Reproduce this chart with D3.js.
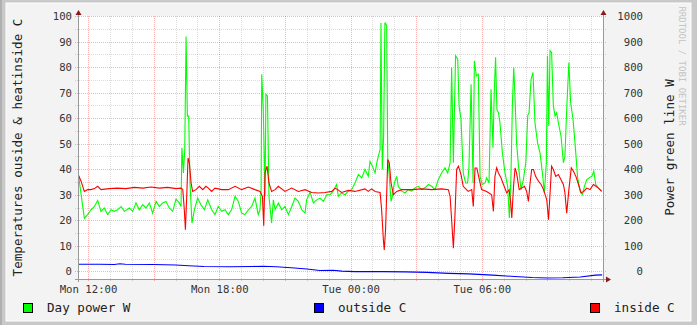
<!DOCTYPE html>
<html>
<head>
<meta charset="utf-8">
<script src="https://cdn.jsdelivr.net/npm/d3@7"></script>
<style>
  html, body { margin: 0; padding: 0; background: #c8c8c8; }
  svg { display: block; }
</style>
</head>
<body>
<svg id="chart" width="697" height="325"></svg>
<script>
// time in hours after Monday 00:00
const powerTimes = [11.57,11.83,11.98,12.13,12.29,12.44,12.59,12.74,12.90,13.05,13.20,13.35,13.51,13.66,13.89,14.04,14.19,14.34,14.50,14.65,14.80,14.95,15.11,15.26,15.41,15.56,15.71,15.87,16.02,16.17,16.25,16.29,16.36,16.42,16.48,16.54,16.60,16.66,16.75,16.86,17.01,17.16,17.32,17.47,17.65,17.80,17.95,18.11,18.26,18.41,18.56,18.72,18.87,19.02,19.17,19.33,19.48,19.63,19.78,19.86,19.91,19.94,20.01,20.09,20.13,20.20,20.27,20.39,20.47,20.55,20.70,20.85,21.00,21.16,21.31,21.46,21.61,21.77,21.92,21.99,22.15,22.30,22.45,22.60,22.76,22.91,23.06,23.21,23.36,23.44,23.59,23.75,23.90,24.05,24.20,24.36,24.51,24.66,24.81,24.89,25.00,25.12,25.20,25.27,25.35,25.39,25.45,25.51,25.57,25.65,25.70,25.76,25.85,25.91,26.00,26.11,26.18,26.34,26.49,26.64,26.79,26.95,27.10,27.25,27.40,27.56,27.71,27.86,28.01,28.16,28.32,28.44,28.55,28.62,28.70,28.80,28.90,28.96,29.05,29.15,29.26,29.35,29.41,29.51,29.60,29.66,29.75,29.84,29.92,30.02,30.15,30.22,30.33,30.42,30.51,30.57,30.63,30.69,30.76,30.83,30.94,31.06,31.18,31.26,31.33,31.40,31.46,31.52,31.59,31.67,31.79,31.90,32.01,32.10,32.16,32.25,32.34,32.43,32.55,32.66,32.77,32.86,32.95,33.00,33.06,33.12,33.19,33.27,33.35,33.42,33.50,33.62,33.73,33.80,33.88,33.98,34.06,34.17,34.26,34.38,34.49,34.60,34.69,34.80,34.90,35.03,35.12,35.21,35.33,35.48]
const powerW = [372,208,222,241,254,278,235,248,222,241,235,241,254,235,248,235,268,241,261,248,268,228,274,254,268,274,248,235,283,268,254,484,385,477,920,608,608,346,189,241,287,261,241,280,241,222,254,235,241,222,241,294,274,228,222,241,254,287,222,241,320,772,634,294,693,687,294,189,280,241,268,241,254,222,254,287,274,241,228,280,310,268,280,287,274,300,300,314,340,294,307,300,314,320,346,379,366,399,372,431,412,385,425,451,477,973,399,529,975,962,438,385,274,294,346,372,333,314,307,320,314,327,333,320,327,340,333,320,359,385,405,385,425,798,425,844,831,648,595,385,346,346,405,733,346,824,765,772,372,340,346,366,346,713,484,706,838,634,621,582,464,385,333,209,366,661,798,674,503,418,320,359,425,611,621,752,779,582,503,464,385,307,425,844,569,864,857,648,608,621,582,530,425,451,634,818,661,595,503,366,314,300,333,359,366,372,392,340,327,314]

const insideTimes = [11.57,11.68,11.83,11.98,12.13,12.29,12.44,12.59,12.97,13.35,13.73,14.12,14.50,14.88,15.26,15.64,16.02,16.25,16.33,16.40,16.45,16.51,16.57,16.63,16.71,16.78,16.93,17.09,17.24,17.39,17.50,17.65,17.80,18.11,18.41,18.72,19.02,19.33,19.63,19.86,19.97,20.03,20.09,20.18,20.27,20.39,20.55,20.70,21.00,21.31,21.61,21.92,22.22,22.53,22.83,23.14,23.29,23.41,23.59,23.90,24.20,24.66,24.81,24.96,25.12,25.35,25.42,25.50,25.54,25.60,25.70,25.77,25.85,25.96,26.11,26.34,26.79,27.25,27.71,28.16,28.47,28.55,28.62,28.70,28.77,28.85,28.93,29.05,29.15,29.30,29.38,29.54,29.61,29.69,29.77,29.87,29.99,30.22,30.45,30.53,30.60,30.68,30.76,30.88,30.99,31.14,31.25,31.32,31.37,31.45,31.52,31.59,31.71,31.95,32.05,32.13,32.20,32.28,32.36,32.46,32.59,32.71,32.82,32.97,33.05,33.12,33.19,33.27,33.38,33.50,33.62,33.73,33.80,33.88,33.98,34.09,34.19,34.30,34.42,34.54,34.66,34.80,34.95,35.10,35.22,35.33,35.48]
const insideC = [37.5,35.3,31.3,32.0,32.0,32.4,33.3,32.0,32.4,32.6,32.4,32.9,32.6,33.0,32.6,32.9,32.4,32.6,32.0,24.1,16.3,29.4,44.4,42.5,34.6,31.3,32.0,33.3,32.0,33.3,32.6,31.3,32.6,32.0,32.0,33.3,32.0,33.0,32.0,31.3,29.4,17.9,38.5,41.2,34.6,31.3,32.0,33.3,31.3,32.6,31.3,32.0,30.9,30.7,30.9,31.3,32.6,32.0,30.9,31.7,31.3,32.3,31.3,32.3,31.3,30.9,24.1,12.3,8.4,16.3,43.8,42.5,34.6,30.0,31.3,32.0,32.0,32.3,32.0,32.3,32.0,29.4,20.2,9.1,21.5,39.9,41.2,37.9,33.3,32.0,31.3,32.0,25.4,40.5,40.5,36.6,32.0,31.3,30.0,23.5,37.2,40.5,38.5,36.6,34.0,30.7,32.0,26.8,20.9,33.3,40.5,38.5,32.0,33.3,31.3,27.4,34.0,39.9,39.9,37.2,35.3,34.0,32.0,28.0,20.2,30.7,41.2,39.9,37.2,37.9,35.9,34.0,30.7,22.8,32.0,40.5,39.2,37.2,34.0,30.7,31.3,32.6,32.0,34.0,33.3,32.6,31.3]

const outsideTimes = [11.57,12.5,13.2,13.45,13.7,15.0,16.0,16.6,17.3,18.5,19.5,20.0,20.6,21.3,22.0,22.6,23.2,23.6,24.2,25.5,26.5,27.5,28.5,29.4,30.5,31.5,32.3,33.0,33.7,34.5,35.2,35.5]
const outsideC = [2.8,2.8,2.7,3.0,2.8,2.7,2.5,2.2,1.9,1.8,1.9,2.0,1.8,1.4,0.9,0.3,0.4,0.1,-0.1,-0.1,-0.2,-0.4,-0.8,-1.0,-1.5,-2.0,-2.4,-2.6,-2.5,-2.2,-1.5,-1.4]

const leftTicks = [0,10,20,30,40,50,60,70,80,90,100]
const rightTicks = [0,100,200,300,400,500,600,700,800,900,1000]
const legendLabels = ['Day power W', 'outside C', 'inside C']
const legendColors = ['#00ff00', '#0000ff', '#ff0000']

const width = 697, height = 325
const plotLeft = 78, plotRight = 603, plotTop = 16, plotBottom = 279
const monday = new Date(2011, 0, 10)
const toDate = h => new Date(monday.getTime() + h * 3600000)
const mono = 'DejaVu Sans Mono'

const svg = d3.select('#chart')

// frame
svg.append('rect').attr('width', width).attr('height', height).attr('fill', '#c9c9c9')
svg.append('rect').attr('x', 0).attr('y', 0).attr('width', 2).attr('height', height).attr('fill', '#b0b0b0')
svg.append('rect').attr('x', 6).attr('y', 3).attr('width', 685).attr('height', 318)
    .attr('fill', '#f3f3f3').attr('stroke', '#ffffff').attr('stroke-width', 1)

svg.append('rect')
    .attr('x', plotLeft).attr('y', plotTop)
    .attr('width', plotRight - plotLeft).attr('height', plotBottom - plotTop)
    .attr('fill', '#ffffff')

// scales
const xScale = d3.scaleTime()
    .domain([toDate(35.54 - 24), toDate(35.54)])
    .range([plotLeft, plotRight])
const yScale = d3.scaleLinear().domain([-3, 100]).range([plotBottom, plotTop])
const yPower = d3.scaleLinear().domain([-30, 1000]).range([plotBottom, plotTop])

// grid
const hours = d3.timeHour.every(1).range(...xScale.domain())
const grid = svg.append('g').attr('shape-rendering', 'crispEdges')
grid.selectAll('.vgrid').data(hours).join('line')
    .attr('x1', d => Math.round(xScale(d)) + 0.5).attr('x2', d => Math.round(xScale(d)) + 0.5)
    .attr('y1', plotTop).attr('y2', plotBottom + 3)
    .attr('stroke', d => d.getHours() % 3 === 0 ? 'rgba(255,0,0,0.3)' : 'rgba(0,0,0,0.14)')
    .attr('stroke-dasharray', '1,1')
const hLines = d3.range(0, 101, 5)
grid.selectAll('.hgrid').data(hLines).join('line')
    .attr('x1', plotLeft - 3).attr('x2', plotRight + 3)
    .attr('y1', d => Math.round(yScale(d)) + 0.5).attr('y2', d => Math.round(yScale(d)) + 0.5)
    .attr('stroke', d => d % 10 === 0 ? 'rgba(255,0,0,0.3)' : 'rgba(0,0,0,0.14)')
    .attr('stroke-dasharray', '1,1')

// series
const line = (times, values, y) => d3.line()
    .x((d, i) => xScale(toDate(times[i])))
    .y(d => y(d))(values)

svg.append('path').attr('d', line(powerTimes, powerW, yPower))
    .attr('fill', 'none').attr('stroke', '#00ff00').attr('stroke-width', 1.1)
svg.append('path').attr('d', line(outsideTimes, outsideC, yScale))
    .attr('fill', 'none').attr('stroke', '#0000ff').attr('stroke-width', 1.1)
svg.append('path').attr('d', line(insideTimes, insideC, yScale))
    .attr('fill', 'none').attr('stroke', '#ff0000').attr('stroke-width', 1.1)

// axes lines and arrows
const axisColor = '#999999', arrowColor = '#8b1a1a'
const axes = svg.append('g').attr('shape-rendering', 'crispEdges')
axes.append('line').attr('x1', plotLeft - 3).attr('x2', plotRight + 4)
    .attr('y1', plotBottom + 0.5).attr('y2', plotBottom + 0.5).attr('stroke', axisColor)
axes.append('line').attr('x1', plotLeft + 0.5).attr('x2', plotLeft + 0.5)
    .attr('y1', plotBottom + 3).attr('y2', plotTop - 3).attr('stroke', axisColor)
axes.append('line').attr('x1', plotRight + 0.5).attr('x2', plotRight + 0.5)
    .attr('y1', plotBottom + 3).attr('y2', plotTop - 3).attr('stroke', axisColor)
const arrows = [
  [[plotLeft - 2.5, plotTop - 1], [plotLeft + 3.5, plotTop - 1], [plotLeft + 0.5, plotTop - 6]],
  [[plotRight - 2.5, plotTop - 1], [plotRight + 3.5, plotTop - 1], [plotRight + 0.5, plotTop - 6]],
  [[plotRight + 3, plotBottom - 2.5], [plotRight + 3, plotBottom + 3.5], [plotRight + 8, plotBottom + 0.5]]
]
svg.selectAll('.arrow').data(arrows).join('path')
    .attr('d', d => 'M' + d.join('L') + 'Z').attr('fill', arrowColor)

// tick labels
const labelColor = '#333333'
svg.append('g').selectAll('text').data(leftTicks).join('text')
    .attr('x', 72).attr('y', d => yScale(d) + 4)
    .attr('text-anchor', 'end').attr('font-family', mono).attr('font-size', 10.67)
    .attr('fill', labelColor).text(d => d)
svg.append('g').selectAll('text').data(rightTicks).join('text')
    .attr('x', 643).attr('y', d => yPower(d) + 4)
    .attr('text-anchor', 'end').attr('font-family', mono).attr('font-size', 10.67)
    .attr('fill', labelColor).text(d => d)

const xAxis = d3.axisBottom(xScale)
    .ticks(d3.timeHour.every(6))
    .tickFormat(d3.timeFormat('%a %H:%M'))
    .tickSize(0)
const xg = svg.append('g').attr('transform', `translate(0, ${plotBottom})`).call(xAxis)
xg.select('.domain').remove()
xg.selectAll('text').attr('font-family', mono).attr('font-size', 10.67)
    .attr('fill', labelColor).attr('dy', null).attr('y', 14)

// axis titles
svg.append('text')
    .attr('transform', `translate(22, ${(plotTop + plotBottom) / 2}) rotate(-90)`)
    .attr('text-anchor', 'middle').attr('font-family', mono).attr('font-size', 12.6)
    .attr('fill', '#222222').text('Temperatures ouside & heatinside C')
svg.append('text')
    .attr('transform', `translate(674, ${(plotTop + plotBottom) / 2}) rotate(-90)`)
    .attr('text-anchor', 'middle').attr('font-family', mono).attr('font-size', 12.6)
    .attr('fill', '#222222').text('Power green line W')
svg.append('text')
    .attr('transform', 'translate(679, 66) rotate(90)')
    .attr('text-anchor', 'middle').attr('font-family', mono).attr('font-size', 9)
    .attr('fill', '#c4c4c4').text('RRDTOOL / TOBI OETIKER')

// legend
const legendX = [23, 314, 590]
const legend = svg.append('g').selectAll('g').data(legendLabels).join('g')
    .attr('transform', (d, i) => `translate(${legendX[i]}, 303)`)
legend.append('rect').attr('x', 0.5).attr('y', 0.5).attr('width', 9).attr('height', 9)
    .attr('fill', (d, i) => legendColors[i]).attr('stroke', '#000000')
legend.append('text').attr('x', 24).attr('y', 9)
    .attr('font-family', mono).attr('font-size', 12.6).attr('fill', '#222222')
    .text(d => d)
</script>
</body>
</html>
